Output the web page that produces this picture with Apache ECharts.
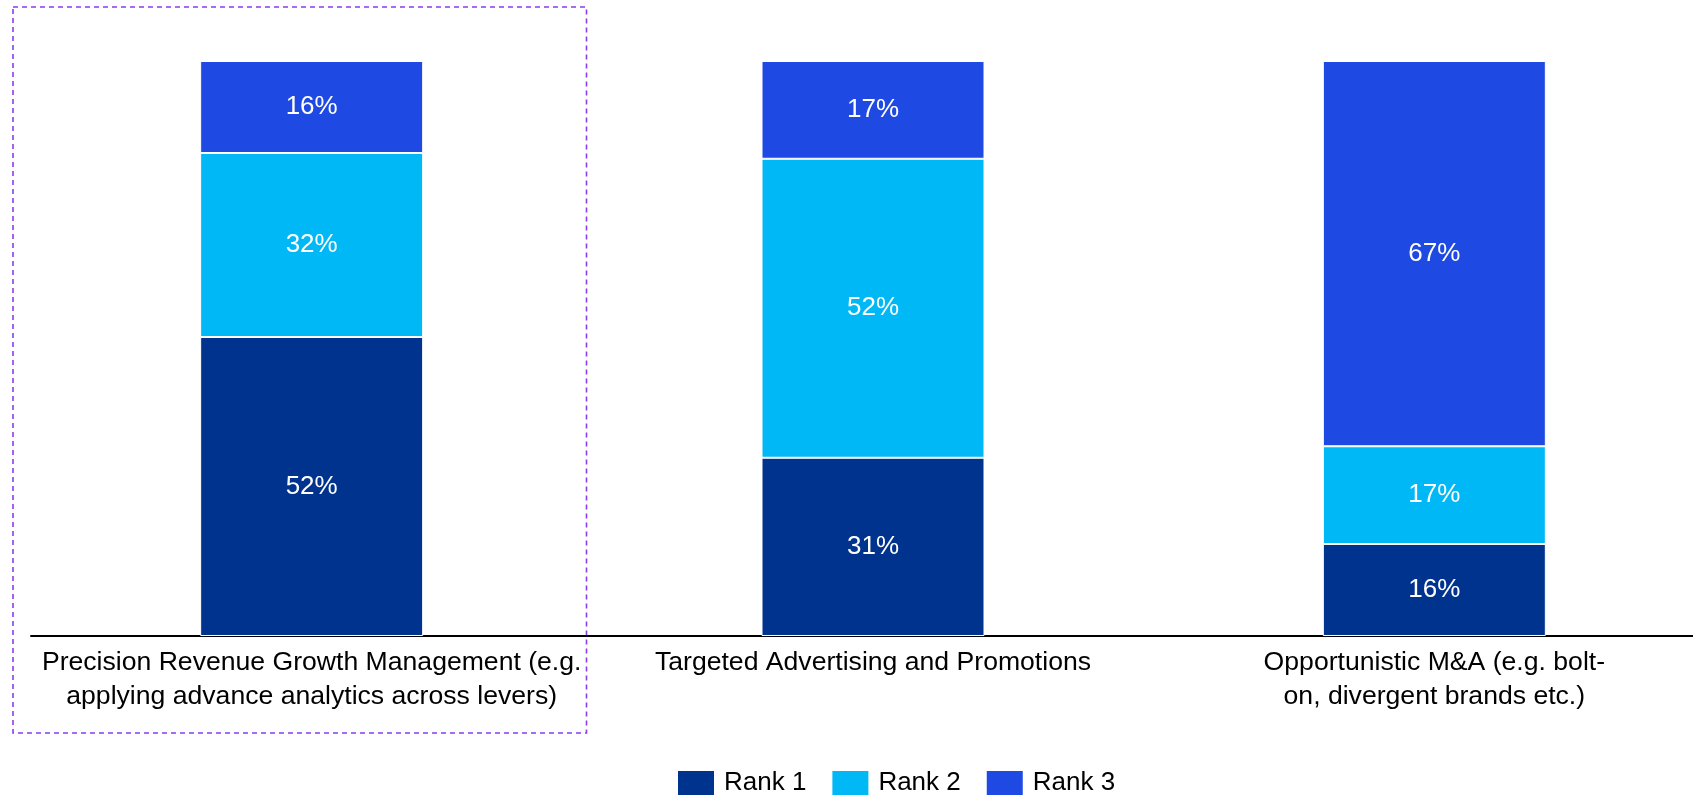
<!DOCTYPE html>
<html>
<head>
<meta charset="utf-8">
<title>Rank of growth levers</title>
<script src="https://cdn.jsdelivr.net/npm/echarts@6/dist/echarts.min.js"></script>
<style>
  html, body { margin: 0; padding: 0; background: #ffffff; }
  #chart { width: 1693px; height: 796px; }
</style>
</head>
<body>
<div id="chart"></div>
<script>
// Growth levers ranked by respondents (share of each rank, %)
const categories = [
  'Precision Revenue Growth Management (e.g.\napplying advance analytics across levers)',
  'Targeted Advertising and Promotions',
  'Opportunistic M&A (e.g. bolt-\non, divergent brands etc.)'
];
const seriesNames = ['Rank 1', 'Rank 2', 'Rank 3'];
const rank1 = [52, 31, 16];
const rank2 = [32, 52, 17];
const rank3 = [16, 17, 67];
const colors = ['#00338D', '#00B8F5', '#1E49E2'];

const FONT = "'Liberation Sans', Arial, sans-serif";

const chart = echarts.init(document.getElementById('chart'), null, { renderer: 'canvas' });

const makeSeries = (name, data, color) => ({
  name: name,
  type: 'bar',
  stack: 'total',
  data: data,
  barWidth: 223,
  itemStyle: { color: color, borderColor: '#ffffff', borderWidth: 1 },
  label: {
    show: true,
    position: 'inside',
    formatter: '{c}%',
    color: '#ffffff',
    fontFamily: FONT,
    fontSize: 26
  },
  emphasis: { disabled: true }
});

chart.setOption({
  animation: false,
  backgroundColor: '#ffffff',
  // the plot band runs past the right edge so the axis line reaches the border
  grid: {
    left: 31, width: 1684, top: 61, bottom: 160,
    containLabel: false,
    outerBoundsMode: 'none'
  },
  xAxis: {
    type: 'category',
    data: categories,
    axisLine: { show: true, lineStyle: { color: '#000000', width: 2 } },
    axisTick: { show: false },
    axisLabel: {
      interval: 0,
      margin: 10,
      color: '#000000',
      fontFamily: FONT,
      fontSize: 26.6,
      lineHeight: 34,
      align: 'center'
    }
  },
  yAxis: {
    type: 'value',
    min: 0,
    max: 100,
    show: false
  },
  legend: {
    data: seriesNames,
    left: 676,
    top: 769,
    padding: 0,
    itemWidth: 38,
    itemHeight: 26,
    itemGap: 24,
    icon: 'rect',
    textStyle: { color: '#000000', fontFamily: FONT, fontSize: 26, padding: [0, 0, 0, 4] }
  },
  graphic: [{
    type: 'rect',
    shape: { x: 13, y: 7, width: 573.5, height: 726 },
    style: { fill: 'none', stroke: '#8B3CF2', lineWidth: 1.6, lineDash: [5, 4] },
    silent: true
  }],
  series: [
    makeSeries(seriesNames[0], rank1, colors[0]),
    makeSeries(seriesNames[1], rank2, colors[1]),
    makeSeries(seriesNames[2], rank3, colors[2])
  ]
});
</script>
</body>
</html>
